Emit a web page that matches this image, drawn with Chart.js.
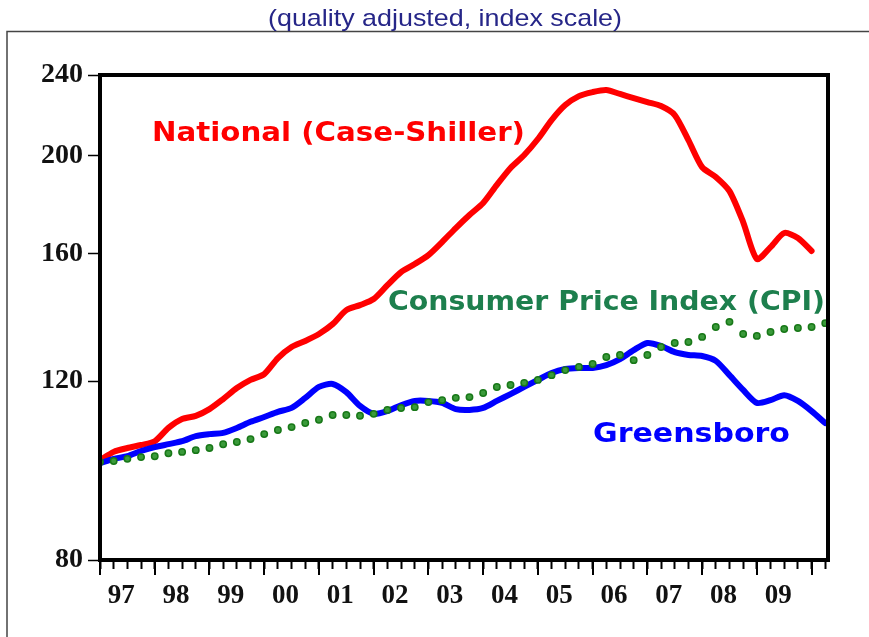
<!DOCTYPE html>
<html>
<head>
<meta charset="utf-8">
<script src="https://cdn.jsdelivr.net/npm/chart.js@4.4.1/dist/chart.umd.min.js"></script>
<style>
  html, body { margin: 0; padding: 0; background: #ffffff; }
  #wrap { position: relative; width: 869px; height: 637px; }
  canvas { display: block; }
</style>
</head>
<body>
<div id="wrap"><canvas id="c" width="869" height="637"></canvas></div>
<script>
// Quarterly observations, 1997Q1 .. 2010Q2
const quarters = [];
for (let y = 1997; y <= 2010; y++) { for (let q = 1; q <= 4; q++) { if (y === 2010 && q > 2) break; quarters.push(y + 'Q' + q); } }

const yearLabels = ['97','98','99','00','01','02','03','04','05','06','07','08','09'];
const yTicks = [80, 120, 160, 200, 240];

// National (Case-Shiller), 1997Q1 .. 2010Q1
const national = [100.3,102.2,103.1,103.8,104.7,107.9,110.1,110.9,112.6,115.2,118.1,120.3,121.9,126.4,129.6,131.4,
  133.5,136.5,140.9,142.5,144.5,149.1,153.6,156.4,159.6,164.4,169.7,174.8,179.6,187.1,194.4,200.2,
  207.6,216.7,224.2,228.8,230.9,232.0,229.9,227.8,225.7,223.7,219.2,207.1,194.8,190.5,184.5,172.0,
  158.2,162.5,167.8,165.9,161.1];

// Greensboro, 1997Q1 .. 2010Q2
const greensboro = [99.6,100.6,101.2,102.4,103.3,104.0,104.7,105.9,106.4,106.7,107.9,109.4,110.6,111.9,112.9,115.5,
  118.4,119.2,117.0,113.4,111.4,112.1,113.6,114.7,114.7,114.2,112.6,112.4,112.9,114.7,116.5,118.4,
  120.3,122.2,123.3,123.6,123.6,124.4,126.1,128.7,130.8,129.9,128.1,127.3,127.0,125.6,121.6,117.6,
  114.2,114.9,116.2,114.7,112.1,109.1];

// Consumer Price Index (CPI), 1997Q1 .. 2010Q2
const cpi = [99.9,100.1,100.6,101.0,101.2,101.9,102.2,102.6,103.1,104.0,104.5,105.2,106.4,107.4,108.1,109.1,
  109.9,111.1,111.1,110.9,111.4,112.4,112.9,113.1,114.4,114.9,115.5,115.7,116.8,118.4,118.9,119.5,
  120.3,121.6,123.0,123.9,124.7,126.7,127.3,125.8,127.3,129.6,130.8,131.1,132.6,135.6,137.2,133.5,
  132.9,134.1,135.0,135.3,135.6,136.8];

const toXY = arr => arr.map((v, i) => ({ x: i, y: v }));

function fitText(ctx, text, left, baseline, width) {
  const w = ctx.measureText(text).width;
  ctx.save();
  ctx.translate(left, baseline);
  ctx.scale(width / w, 1);
  ctx.textAlign = 'left';
  ctx.textBaseline = 'alphabetic';
  ctx.fillText(text, 0, 0);
  ctx.restore();
}

const framePlugin = {
  id: 'framePlugin',
  beforeDraw(chart) {
    const ctx = chart.ctx;
    ctx.save();
    ctx.strokeStyle = '#444444';
    ctx.lineWidth = 1.5;
    ctx.beginPath();
    ctx.moveTo(7, 637);
    ctx.lineTo(7, 31.5);
    ctx.lineTo(869, 31.5);
    ctx.stroke();
    ctx.fillStyle = '#262688';
    ctx.font = '24px "Liberation Sans", Arial, sans-serif';
    fitText(ctx, '(quality adjusted, index scale)', 268, 26, 354);
    ctx.restore();
  },
  afterDatasetsDraw(chart) {
    const ctx = chart.ctx;
    const a = chart.chartArea;
    const xs = chart.scales.x;
    ctx.save();
    // major year ticks (longer)
    ctx.strokeStyle = '#000';
    ctx.lineWidth = 2;
    for (let i = 0; i < quarters.length; i += 4) {
      const px = Math.round(xs.getPixelForValue(i));
      ctx.beginPath();
      ctx.moveTo(px, a.bottom);
      ctx.lineTo(px, a.bottom + 15);
      ctx.stroke();
    }
    // frame
    ctx.lineWidth = 4;
    ctx.strokeRect(a.left, a.top, a.right - a.left, a.bottom - a.top);
    // series labels
    ctx.font = 'bold 26px "DejaVu Sans", Verdana, sans-serif';
    ctx.fillStyle = '#ff0000';
    fitText(ctx, 'National (Case-Shiller)', 152, 141, 373);
    ctx.fillStyle = '#1d7f4d';
    fitText(ctx, 'Consumer Price Index (CPI)', 388, 310, 437);
    ctx.fillStyle = '#0000ff';
    fitText(ctx, 'Greensboro', 593, 442, 197);
    ctx.restore();
  }
};

new Chart(document.getElementById('c'), {
  type: 'line',
  data: {
    datasets: [
      { label: 'Consumer Price Index (CPI)', data: toXY(cpi), showLine: false, order: 0,
        pointRadius: 3.2, pointBorderWidth: 1.5, pointBackgroundColor: '#3a9a3a', pointBorderColor: '#187818' },
      { label: 'Greensboro', data: toXY(greensboro), borderColor: '#0000ff', borderWidth: 6, pointRadius: 0,
        tension: 0.25, order: 1, borderJoinStyle: 'round', borderCapStyle: 'round' },
      { label: 'National (Case-Shiller)', data: toXY(national), borderColor: '#ff0000', borderWidth: 6, pointRadius: 0,
        tension: 0.25, order: 2, borderJoinStyle: 'round', borderCapStyle: 'round' }
    ]
  },
  options: {
    responsive: false,
    animation: false,
    layout: { padding: { top: 75, right: 41, left: 0, bottom: 0 } },
    plugins: { legend: { display: false }, tooltip: { enabled: false }, title: { display: false } },
    scales: {
      x: {
        type: 'linear', min: 0, max: 53.2,
        afterBuildTicks: s => { s.ticks = quarters.map((q, i) => ({ value: i })); },
        afterFit: s => { s.height = 77; },
        border: { display: false },
        grid: { display: true, drawOnChartArea: false, drawTicks: true, tickLength: 9, tickColor: '#000', tickWidth: 2 },
        ticks: {
          autoSkip: false, maxRotation: 0, minRotation: 0, padding: 11, labelOffset: -6,
          color: '#111',
          font: { family: '"Liberation Serif", "Times New Roman", serif', size: 27, weight: 'bold' },
          callback: v => (v % 4 === 2) ? yearLabels[Math.floor(v / 4)] : ''
        }
      },
      y: {
        type: 'logarithmic', min: 80, max: 240,
        afterBuildTicks: s => { s.ticks = yTicks.map(v => ({ value: v })); },
        afterFit: s => { s.width = 100; },
        border: { display: false },
        grid: { display: true, drawOnChartArea: false, drawTicks: true, tickLength: 12, tickColor: '#000', tickWidth: 1.5 },
        ticks: {
          padding: 5, color: '#111',
          font: { family: '"Liberation Serif", "Times New Roman", serif', size: 28, weight: 'bold' },
          callback: v => String(v)
        }
      }
    }
  },
  plugins: [framePlugin]
});
</script>
</body>
</html>
